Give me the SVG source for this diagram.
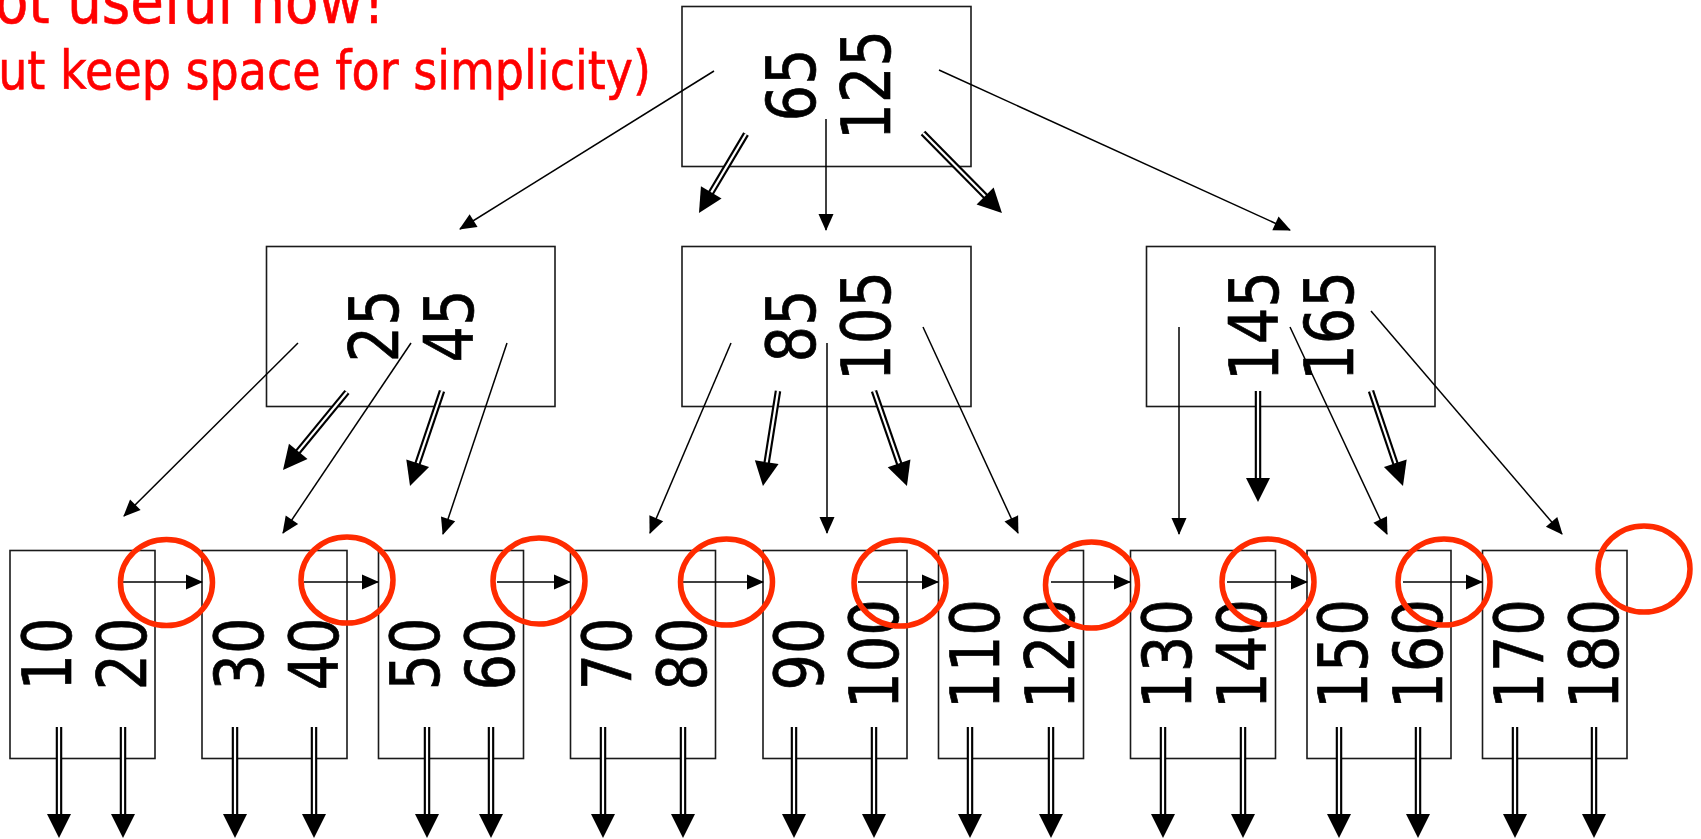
<svg xmlns="http://www.w3.org/2000/svg" width="1701" height="839" viewBox="0 0 1701 839">
<style>
.box{fill:#fff;stroke:#1a1a1a;stroke-width:1.6}
.k{font-family:"DejaVu Sans","Verdana",sans-serif;font-size:67px;fill:#000;stroke:#000;stroke-width:0.7;text-anchor:middle}
.note{font-family:"DejaVu Sans","Verdana",sans-serif;fill:#ff0000;stroke:#ff0000;stroke-width:0.6}
.thin{fill:none;stroke:#000;stroke-width:1.5;marker-end:url(#th)}
.dbl{fill:none;stroke:#000;stroke-width:6.5;marker-end:url(#dh)}
.dbl-in{fill:none;stroke:#fff;stroke-width:2.2}
.ring{fill:none;stroke:#ff2b00;stroke-width:5.5}
</style>
<defs>
<marker id="th" markerUnits="userSpaceOnUse" viewBox="0 -8 18 16" markerWidth="18" markerHeight="16" refX="16" refY="0" orient="auto" overflow="visible">
<path d="M0,-7.5 L17,0 L0,7.5 z" fill="#000"/>
</marker>
<marker id="dh" markerUnits="userSpaceOnUse" viewBox="0 -13 25 26" markerWidth="25" markerHeight="26" refX="4" refY="0" orient="auto" overflow="visible">
<path d="M0,-12 L24,0 L0,12 z" fill="#000"/>
</marker>
</defs>

<g id="note">
<text class="note" x="-46" y="23" font-size="63" textLength="431" lengthAdjust="spacingAndGlyphs">Not useful now!</text>
<text class="note" x="-49" y="89" font-size="53" textLength="700" lengthAdjust="spacingAndGlyphs">(but keep space for simplicity)</text>
</g>

<g id="root">
<rect class="box" x="682" y="6.5" width="289" height="160"/>
<text class="k" transform="translate(815,85) rotate(-90)" textLength="73" lengthAdjust="spacingAndGlyphs">65</text>
<text class="k" transform="translate(890,85) rotate(-90)" textLength="110" lengthAdjust="spacingAndGlyphs">125</text>
</g>

<g id="inner-left">
<rect class="box" x="266.5" y="246.5" width="288.5" height="160"/>
<text class="k" transform="translate(398,326) rotate(-90)" textLength="73" lengthAdjust="spacingAndGlyphs">25</text>
<text class="k" transform="translate(473,326) rotate(-90)" textLength="73" lengthAdjust="spacingAndGlyphs">45</text>
</g>
<g id="inner-mid">
<rect class="box" x="682" y="246.5" width="289" height="160"/>
<text class="k" transform="translate(815,326) rotate(-90)" textLength="73" lengthAdjust="spacingAndGlyphs">85</text>
<text class="k" transform="translate(890,326) rotate(-90)" textLength="110" lengthAdjust="spacingAndGlyphs">105</text>
</g>
<g id="inner-right">
<rect class="box" x="1146.5" y="246.5" width="288.5" height="160"/>
<text class="k" transform="translate(1278,326) rotate(-90)" textLength="110" lengthAdjust="spacingAndGlyphs">145</text>
<text class="k" transform="translate(1353,326) rotate(-90)" textLength="110" lengthAdjust="spacingAndGlyphs">165</text>
</g>

<g id="leaf1">
<rect class="box" x="10" y="550.5" width="145" height="208"/>
<text class="k" transform="translate(71,654) rotate(-90)" textLength="73" lengthAdjust="spacingAndGlyphs">10</text>
<text class="k" transform="translate(146,654) rotate(-90)" textLength="73" lengthAdjust="spacingAndGlyphs">20</text>
</g>
<g id="leaf2">
<rect class="box" x="202" y="550.5" width="145" height="208"/>
<text class="k" transform="translate(263,654) rotate(-90)" textLength="73" lengthAdjust="spacingAndGlyphs">30</text>
<text class="k" transform="translate(338,654) rotate(-90)" textLength="73" lengthAdjust="spacingAndGlyphs">40</text>
</g>
<g id="leaf3">
<rect class="box" x="378.5" y="550.5" width="145" height="208"/>
<text class="k" transform="translate(439,654) rotate(-90)" textLength="73" lengthAdjust="spacingAndGlyphs">50</text>
<text class="k" transform="translate(514,654) rotate(-90)" textLength="73" lengthAdjust="spacingAndGlyphs">60</text>
</g>
<g id="leaf4">
<rect class="box" x="570.5" y="550.5" width="145" height="208"/>
<text class="k" transform="translate(631,654) rotate(-90)" textLength="73" lengthAdjust="spacingAndGlyphs">70</text>
<text class="k" transform="translate(706,654) rotate(-90)" textLength="73" lengthAdjust="spacingAndGlyphs">80</text>
</g>
<g id="leaf5">
<rect class="box" x="763" y="550.5" width="144" height="208"/>
<text class="k" transform="translate(823,654) rotate(-90)" textLength="73" lengthAdjust="spacingAndGlyphs">90</text>
<text class="k" transform="translate(898,654) rotate(-90)" textLength="110" lengthAdjust="spacingAndGlyphs">100</text>
</g>
<g id="leaf6">
<rect class="box" x="938.5" y="550.5" width="145" height="208"/>
<text class="k" transform="translate(999,654) rotate(-90)" textLength="110" lengthAdjust="spacingAndGlyphs">110</text>
<text class="k" transform="translate(1074,654) rotate(-90)" textLength="110" lengthAdjust="spacingAndGlyphs">120</text>
</g>
<g id="leaf7">
<rect class="box" x="1130.5" y="550.5" width="145" height="208"/>
<text class="k" transform="translate(1191,654) rotate(-90)" textLength="110" lengthAdjust="spacingAndGlyphs">130</text>
<text class="k" transform="translate(1266,654) rotate(-90)" textLength="110" lengthAdjust="spacingAndGlyphs">140</text>
</g>
<g id="leaf8">
<rect class="box" x="1307" y="550.5" width="144" height="208"/>
<text class="k" transform="translate(1367,654) rotate(-90)" textLength="110" lengthAdjust="spacingAndGlyphs">150</text>
<text class="k" transform="translate(1442,654) rotate(-90)" textLength="110" lengthAdjust="spacingAndGlyphs">160</text>
</g>
<g id="leaf9">
<rect class="box" x="1482.5" y="550.5" width="144.5" height="208"/>
<text class="k" transform="translate(1543,654) rotate(-90)" textLength="110" lengthAdjust="spacingAndGlyphs">170</text>
<text class="k" transform="translate(1618,654) rotate(-90)" textLength="110" lengthAdjust="spacingAndGlyphs">180</text>
</g>

<g id="connectors">
<path class="thin" d="M714,71 L460,229"/>
<path class="thin" d="M826,119 L826,230"/>
<path class="thin" d="M939,70 L1290,230"/>
<path class="thin" d="M298,343 L124,516"/>
<path class="thin" d="M411,343 L283,533"/>
<path class="thin" d="M507,343 L443,534"/>
<path class="thin" d="M731,343 L650,533"/>
<path class="thin" d="M827,343 L827,533"/>
<path class="thin" d="M923,327 L1018,533"/>
<path class="thin" d="M1179,327 L1179,534"/>
<path class="thin" d="M1290,327 L1387,534"/>
<path class="thin" d="M1371,311 L1562,534"/>

<path class="thin" d="M123,582 L202,582"/>
<path class="thin" d="M304,582 L378,582"/>
<path class="thin" d="M497,582 L570,582"/>
<path class="thin" d="M683,582 L763,582"/>
<path class="thin" d="M858,582 L938,582"/>
<path class="thin" d="M1051,582 L1130,582"/>
<path class="thin" d="M1227,582 L1307,582"/>
<path class="thin" d="M1403,582 L1482,582"/>

<path class="dbl" d="M746,134 L709.2,195.8"/><path class="dbl-in" d="M746,134 L711.3,192.4"/>
<path class="dbl" d="M923,133 L987.9,198.8"/><path class="dbl-in" d="M923,133 L985.1,195.9"/>
<path class="dbl" d="M347,392 L295.7,454.5"/><path class="dbl-in" d="M347,392 L298.2,451.4"/>
<path class="dbl" d="M442,391 L416.4,467"/><path class="dbl-in" d="M442,391 L417.7,463.2"/>
<path class="dbl" d="M778,391 L766.1,466.2"/><path class="dbl-in" d="M778,391 L766.7,462.3"/>
<path class="dbl" d="M874,391 L900.4,467.1"/><path class="dbl-in" d="M874,391 L899.1,463.3"/>
<path class="dbl" d="M1258,391 L1258,482"/><path class="dbl-in" d="M1258,391 L1258,478"/>
<path class="dbl" d="M1371,391 L1396.6,467"/><path class="dbl-in" d="M1371,391 L1395.3,463.2"/>

<path class="dbl" d="M59,727 L59,818"/><path class="dbl-in" d="M59,727 L59,814"/>
<path class="dbl" d="M123,727 L123,818"/><path class="dbl-in" d="M123,727 L123,814"/>
<path class="dbl" d="M235,727 L235,818"/><path class="dbl-in" d="M235,727 L235,814"/>
<path class="dbl" d="M314,727 L314,818"/><path class="dbl-in" d="M314,727 L314,814"/>
<path class="dbl" d="M427,727 L427,818"/><path class="dbl-in" d="M427,727 L427,814"/>
<path class="dbl" d="M491,727 L491,818"/><path class="dbl-in" d="M491,727 L491,814"/>
<path class="dbl" d="M603,727 L603,818"/><path class="dbl-in" d="M603,727 L603,814"/>
<path class="dbl" d="M683,727 L683,818"/><path class="dbl-in" d="M683,727 L683,814"/>
<path class="dbl" d="M794,727 L794,818"/><path class="dbl-in" d="M794,727 L794,814"/>
<path class="dbl" d="M874,727 L874,818"/><path class="dbl-in" d="M874,727 L874,814"/>
<path class="dbl" d="M970,727 L970,818"/><path class="dbl-in" d="M970,727 L970,814"/>
<path class="dbl" d="M1051,727 L1051,818"/><path class="dbl-in" d="M1051,727 L1051,814"/>
<path class="dbl" d="M1163,727 L1163,818"/><path class="dbl-in" d="M1163,727 L1163,814"/>
<path class="dbl" d="M1243,727 L1243,818"/><path class="dbl-in" d="M1243,727 L1243,814"/>
<path class="dbl" d="M1339,727 L1339,818"/><path class="dbl-in" d="M1339,727 L1339,814"/>
<path class="dbl" d="M1418,727 L1418,818"/><path class="dbl-in" d="M1418,727 L1418,814"/>
<path class="dbl" d="M1515,727 L1515,818"/><path class="dbl-in" d="M1515,727 L1515,814"/>
<path class="dbl" d="M1594,727 L1594,818"/><path class="dbl-in" d="M1594,727 L1594,814"/>
</g>

<g id="highlights">
<ellipse class="ring" cx="166.5" cy="582.5" rx="46" ry="43"/>
<ellipse class="ring" cx="347" cy="580" rx="46" ry="43"/>
<ellipse class="ring" cx="539" cy="581" rx="46" ry="43"/>
<ellipse class="ring" cx="726.5" cy="582" rx="46" ry="43"/>
<ellipse class="ring" cx="900" cy="583" rx="46" ry="43"/>
<ellipse class="ring" cx="1091.5" cy="585" rx="46" ry="43"/>
<ellipse class="ring" cx="1268" cy="582" rx="46" ry="43"/>
<ellipse class="ring" cx="1444" cy="582" rx="46" ry="43"/>
<ellipse class="ring" cx="1644" cy="569" rx="46" ry="43"/>
</g>
</svg>
